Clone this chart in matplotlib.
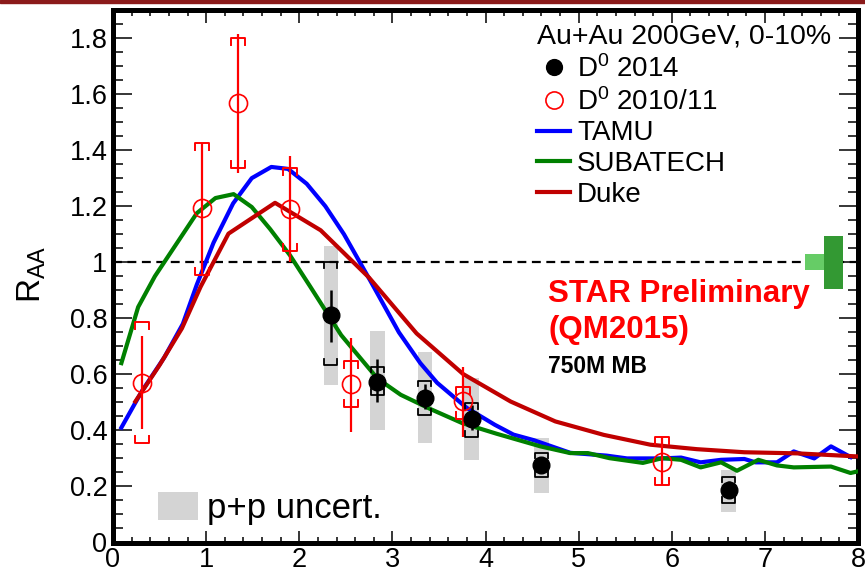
import numpy as np
import matplotlib
matplotlib.use("Agg")
import matplotlib.pyplot as plt
from matplotlib.patches import Patch, Rectangle

plt.rcParams['font.family'] = ['Liberation Sans', 'DejaVu Sans']
plt.rcParams['mathtext.fontset'] = 'custom'
plt.rcParams['mathtext.rm'] = 'Liberation Sans'
plt.rcParams['mathtext.it'] = 'Liberation Sans:italic'

# D0 2014 (filled black)
d14_x = [2.34, 2.84, 3.35, 3.85, 4.60, 6.61]
d14_y = [0.81, 0.574, 0.515, 0.442, 0.277, 0.189]
d14_stat_lo = [0.716, 0.50, 0.475, 0.40, 0.25, 0.16]
d14_stat_hi = [0.90, 0.654, 0.565, 0.49, 0.305, 0.22]
d14_sys_lo = [0.633, 0.526, 0.456, 0.377, 0.235, 0.142]
d14_sys_hi = [1.0, 0.627, 0.577, 0.498, 0.32, 0.235]
pp_lo = [0.561, 0.40, 0.355, 0.295, 0.178, 0.11]
pp_hi = [1.057, 0.755, 0.68, 0.587, 0.372, 0.258]

# D0 2010/11 (open red)
d10_x = [0.31, 0.96, 1.34, 1.90, 2.56, 3.76, 5.90]
d10_y = [0.569, 1.192, 1.568, 1.19, 0.565, 0.506, 0.287]
d10_stat_lo = [0.406, 0.954, 1.32, 1.0, 0.395, 0.377, 0.206]
d10_stat_hi = [0.737, 1.427, 1.815, 1.38, 0.728, 0.627, 0.377]
d10_sys_lo = [0.356, 0.954, 1.338, 1.04, 0.484, 0.44, 0.206]
d10_sys_hi = [0.787, 1.427, 1.80, 1.338, 0.647, 0.556, 0.377]

# model curves
tamu_x = [0.09, 0.31, 0.55, 0.75, 0.9, 1.08, 1.29, 1.49, 1.7, 1.88, 2.08, 2.28, 2.48,
          2.77, 3.07, 3.3, 3.48, 3.8, 4.1, 4.3, 4.52, 4.91, 5.3, 5.52, 5.9, 6.1, 6.31,
          6.53, 6.78, 6.9, 7.13, 7.31, 7.53, 7.71, 7.92]
tamu_y = [0.41, 0.54, 0.66, 0.78, 0.92, 1.07, 1.21, 1.30, 1.34, 1.333, 1.28, 1.20, 1.10,
          0.93, 0.75, 0.64, 0.57, 0.48, 0.42, 0.385, 0.365, 0.32, 0.31, 0.30, 0.30, 0.303, 0.286,
          0.295, 0.298, 0.286, 0.286, 0.325, 0.30, 0.343, 0.305]

subatech_x = [0.09, 0.27, 0.45, 0.65, 0.9, 1.1, 1.295, 1.49, 1.688, 1.9, 2.12, 2.45, 2.84,
              3.09, 3.41, 3.75, 4.12, 4.59, 4.91, 5.1, 5.33, 5.69, 5.9, 6.1, 6.31, 6.53,
              6.7, 6.93, 7.13, 7.31, 7.71, 7.92, 8.0]
subatech_y = [0.64, 0.84, 0.95, 1.05, 1.175, 1.229, 1.243, 1.197, 1.118, 1.025, 0.912, 0.74, 0.585,
              0.527, 0.476, 0.426, 0.388, 0.343, 0.319, 0.319, 0.301, 0.284, 0.301, 0.295, 0.268, 0.286,
              0.256, 0.295, 0.275, 0.268, 0.271, 0.248, 0.254]

duke_x = [0.24, 0.5, 0.74, 0.94, 1.24, 1.74, 2.23, 2.75, 3.26, 3.76, 4.27, 4.75, 5.27,
          5.77, 6.27, 6.78, 7.35, 8.0]
duke_y = [0.503, 0.633, 0.764, 0.912, 1.102, 1.212, 1.114, 0.945, 0.746, 0.601, 0.503, 0.432, 0.384,
          0.349, 0.333, 0.322, 0.318, 0.307]

# normalisation boxes (x centre, lo, hi)
norm_x = [7.53, 7.735]
norm_lo = [0.972, 0.904]
norm_hi = [1.028, 1.094]
norm_colors = ['#66cc66', '#339933']

xticks = [0, 1, 2, 3, 4, 5, 6, 7, 8]
yticks = [0, 0.2, 0.4, 0.6, 0.8, 1.0, 1.2, 1.4, 1.6, 1.8]
ytick_labels = ['0', '0.2', '0.4', '0.6', '0.8', '1', '1.2', '1.4', '1.6', '1.8']


def brackets(ax, x, lo, hi, color, hw, tick, lw):
    for xi, l, h in zip(x, lo, hi):
        ax.plot([xi - hw, xi - hw, xi + hw, xi + hw], [h - tick, h, h, h - tick],
                color=color, lw=lw, zorder=6)
        ax.plot([xi - hw, xi - hw, xi + hw, xi + hw], [l + tick, l, l, l + tick],
                color=color, lw=lw, zorder=6)


fig = plt.figure(figsize=(8.65, 5.73), dpi=100)
ax = fig.add_axes([113 / 865, 30.5 / 573, 745 / 865, 532.5 / 573])

# p+p uncertainty bands
ax.bar(d14_x, np.array(pp_hi) - np.array(pp_lo), bottom=pp_lo, width=0.155,
       color='#d4d4d4', zorder=1)
ax.axhline(1.0, color='black', ls=(0, (4, 2.5)), lw=1.6, zorder=2)
ax.bar(norm_x, np.array(norm_hi) - np.array(norm_lo), bottom=norm_lo,
       width=[0.2, 0.205], color=norm_colors, zorder=3)

l_tamu, = ax.plot(tamu_x, tamu_y, color='#0000ff', lw=3, zorder=4, label='TAMU')
l_sub, = ax.plot(subatech_x, subatech_y, color='#008000', lw=3, zorder=4, label='SUBATECH')
l_duke, = ax.plot(duke_x, duke_y, color='#c00000', lw=3, zorder=4, label='Duke')

# D0 2010/11
ax.vlines(d10_x, d10_stat_lo, d10_stat_hi, color='red', lw=1.6, zorder=6)
brackets(ax, d10_x, d10_sys_lo, d10_sys_hi, 'red', 0.075, 0.025, 1.4)
m10, = ax.plot(d10_x, d10_y, 'o', ms=13, mfc='none', mec='red', mew=1.2, zorder=8,
               label='D$^0$ 2010/11')

# D0 2014
ax.vlines(d14_x, d14_stat_lo, d14_stat_hi, color='black', lw=1.8, zorder=6)
brackets(ax, d14_x, d14_sys_lo, d14_sys_hi, 'black', 0.07, 0.02, 1.3)
m14, = ax.plot(d14_x, d14_y, 'o', ms=12, color='black', zorder=8, label='D$^0$ 2014')

ax.set_xlim(0, 8)
ax.set_ylim(0, 1.9)
ax.set_xticks(xticks)
ax.set_xticklabels([str(t) for t in xticks])
ax.set_yticks(yticks)
ax.set_yticklabels(ytick_labels)
ax.set_xticks(np.arange(0, 8.01, 0.2), minor=True)
ax.set_yticks(np.arange(0, 1.9, 0.05), minor=True)
ax.tick_params(which='both', direction='in', top=True, right=True, width=1.1,
               labelsize=19.5)
ax.tick_params(axis='y', which='major', length=14, pad=4)
ax.tick_params(axis='y', which='minor', length=7)
ax.tick_params(axis='x', which='major', length=9, pad=3)
ax.tick_params(axis='x', which='minor', length=4.5)
for s in ax.spines.values():
    s.set_linewidth(3.6)

ax.set_ylabel('R$_\\mathrm{AA}$', fontsize=24)
ax.yaxis.set_label_coords(-0.087, 0.504)

ax.text(0.569, 0.975, 'Au+Au 200GeV, 0-10%', transform=ax.transAxes,
        fontsize=20.5, va='top', ha='left')
leg = ax.legend(handles=[m14, m10, l_tamu, l_sub, l_duke], loc='upper left',
                bbox_to_anchor=(0.569, 0.915), frameon=False, fontsize=20,
                handlelength=1.2, handletextpad=0.25, labelspacing=0.17,
                borderpad=0, borderaxespad=0, markerscale=0.95)
ax.add_artist(leg)

pp_handle = Patch(facecolor='#d4d4d4', edgecolor='none')
ax.legend(handles=[pp_handle], labels=['p+p uncert.'], loc='center left',
          bbox_to_anchor=(0.060, 0.063), frameon=False, fontsize=25,
          handlelength=1.15, handleheight=0.86, handletextpad=0.26,
          borderpad=0, borderaxespad=0)

ax.text(0.584, 0.4516, 'STAR Preliminary', transform=ax.transAxes, color='red',
        fontsize=22.5, fontweight='bold', va='baseline')
ax.text(0.584, 0.384, '(QM2015)', transform=ax.transAxes, color='red',
        fontsize=22.5, fontweight='bold', va='baseline')
ax.text(0.584, 0.318, '750M MB', transform=ax.transAxes, color='black',
        fontsize=16.5, fontweight='bold', va='baseline')

# slide border at the top
fig.patches.append(Rectangle((0, 1 - 3 / 573), 1, 3 / 573, transform=fig.transFigure,
                             color='#8b1a1a', zorder=10))

fig.savefig('out.png', dpi=100)
